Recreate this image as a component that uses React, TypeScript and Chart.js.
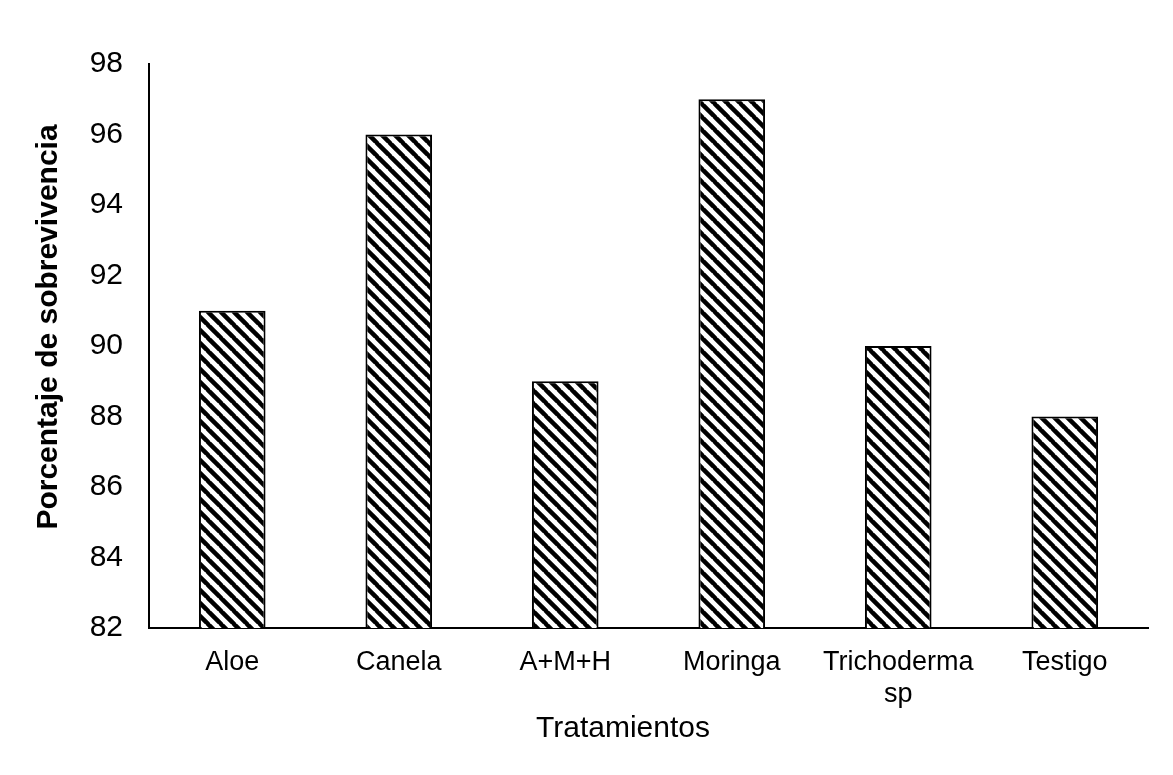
import React, { useEffect, useRef } from "react";
import { Chart, registerables } from "chart.js";

Chart.register(...registerables);

const categories: (string | string[])[] = ["Aloe", "Canela", "A+M+H", "Moringa", ["Trichoderma", "sp"], "Testigo"];
const survival: number[] = [91, 96, 89, 97, 90, 88];
const yTitle = "Porcentaje de sobrevivencia";
const xTitle = "Tratamientos";
const yMin = 82;
const yMax = 98;
const yStep = 2;

const FONT = "'Liberation Sans', Arial, sans-serif";

function makeHatch(): CanvasPattern | string {
  const s = 13;
  const c = document.createElement("canvas");
  c.width = s;
  c.height = s;
  const ctx = c.getContext("2d");
  if (!ctx) return "#000";
  ctx.fillStyle = "#fff";
  ctx.fillRect(0, 0, s, s);
  ctx.strokeStyle = "#000";
  ctx.lineWidth = 4.5;
  for (const k of [-s, 0, s]) {
    ctx.beginPath();
    ctx.moveTo(k - 1, -1);
    ctx.lineTo(k + s + 1, s + 1);
    ctx.stroke();
  }
  const p = ctx.createPattern(c, "repeat");
  return p || "#000";
}

const titlePlugin = {
  id: "customTitles",
  afterDraw(chart: any) {
    const ctx = chart.ctx as CanvasRenderingContext2D;
    ctx.save();
    ctx.fillStyle = "#000";
    ctx.textAlign = "center";
    ctx.textBaseline = "alphabetic";
    ctx.font = `bold 30px ${FONT}`;
    ctx.translate(57, 327);
    ctx.rotate(-Math.PI / 2);
    ctx.fillText(yTitle, 0, 0);
    ctx.restore();
    ctx.save();
    ctx.fillStyle = "#000";
    ctx.textAlign = "center";
    ctx.textBaseline = "alphabetic";
    ctx.font = `30px ${FONT}`;
    ctx.fillText(xTitle, 623, 737);
    ctx.restore();
  },
};

export default function App() {
  const ref = useRef<HTMLCanvasElement | null>(null);
  useEffect(() => {
    if (!ref.current) return;
    const chart = new Chart(ref.current, {
      type: "bar",
      data: {
        labels: categories as any,
        datasets: [
          {
            data: survival,
            backgroundColor: makeHatch() as any,
            borderColor: "#000",
            borderWidth: 2,
            categoryPercentage: 1,
            barPercentage: 0.4,
          },
        ],
      },
      options: {
        responsive: false,
        animation: false,
        layout: { padding: { top: 64, right: 25, left: 0, bottom: 0 } },
        plugins: { legend: { display: false }, tooltip: { enabled: false }, title: { display: false } },
        scales: {
          x: {
            grid: { display: false, drawTicks: false },
            border: { display: true, color: "#000", width: 2 },
            ticks: { color: "#000", font: { family: FONT, size: 27 }, padding: 18, maxRotation: 0, autoSkip: false },
            afterFit(scale: any) {
              scale.height = 147;
            },
          },
          y: {
            min: yMin,
            max: yMax,
            grid: { display: false, drawTicks: false },
            border: { display: true, color: "#000", width: 2 },
            ticks: { stepSize: yStep, color: "#000", font: { family: FONT, size: 30 }, padding: 26 },
            afterFit(scale: any) {
              scale.width = 149;
            },
          },
        },
      },
      plugins: [titlePlugin],
    });
    return () => chart.destroy();
  }, []);
  return (
    <div style={{ position: "fixed", left: 0, top: 0, width: 1173, height: 775, background: "#fff" }}>
      <canvas ref={ref} width={1173} height={775} />
    </div>
  );
}
